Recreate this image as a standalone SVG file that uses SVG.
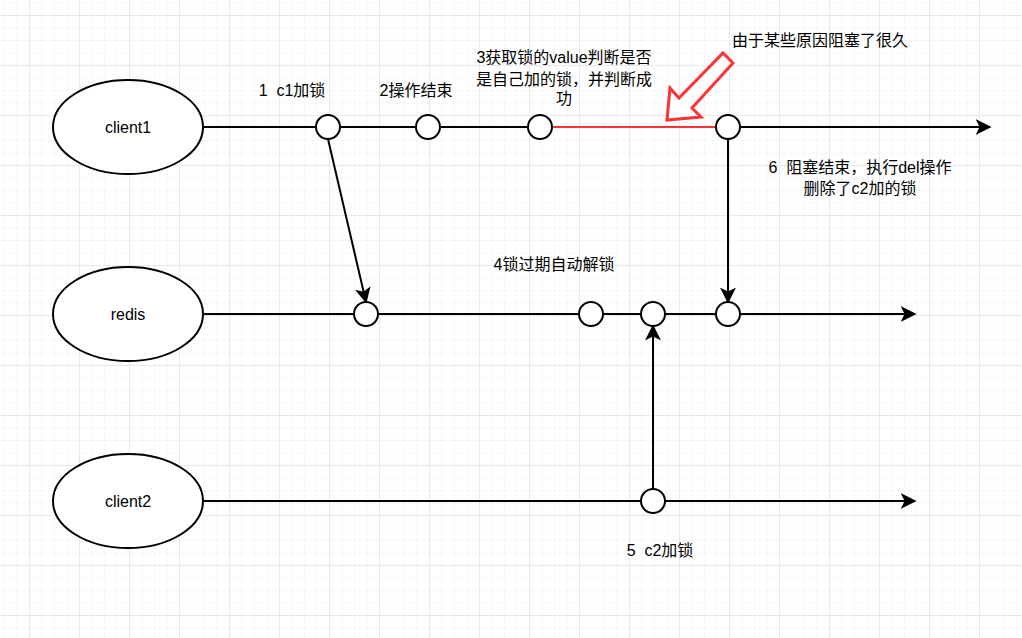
<svg xmlns="http://www.w3.org/2000/svg" width="1022" height="638" viewBox="0 0 1022 638">
<defs>
<pattern id="minor" x="4" y="2.5" width="12.5" height="12.5" patternUnits="userSpaceOnUse"><path d="M0 0H12.5M0 0V12.5" stroke="#efefef" stroke-width="1" fill="none"/></pattern>
<pattern id="major" x="29" y="15" width="50" height="50" patternUnits="userSpaceOnUse"><path d="M0 0H50M0 0V50" stroke="#dcdcdc" stroke-width="1" fill="none"/></pattern>
<marker id="ah2" viewBox="0 0 10 10" refX="9" refY="5" markerWidth="16" markerHeight="16" markerUnits="userSpaceOnUse" orient="auto"><path d="M0 0L10 5L0 10L2.5 5Z" fill="#000"/></marker>
</defs>
<style>
.n{fill:#fff;stroke:#000;stroke-width:2}
.l{stroke:#000;stroke-width:2;fill:none}
text{font-family:"Liberation Sans","Noto Sans CJK SC",sans-serif;font-size:16px;fill:#000;text-anchor:middle;white-space:pre}
</style>
<rect width="1022" height="638" fill="#fff"/>
<rect width="1022" height="638" fill="url(#minor)"/>
<rect width="1022" height="638" fill="url(#major)"/>
<g id="connectors">
<path class="l" d="M203 127H540" />
<path d="M552 127H716" stroke="#ff3333" stroke-width="2"/>
<path class="l" d="M740 127H990" marker-end="url(#ah2)"/>
<path class="l" d="M203 314H915" marker-end="url(#ah2)"/>
<path class="l" d="M203 501H915" marker-end="url(#ah2)"/>
<path class="l" d="M328 139L366 302" marker-end="url(#ah2)"/>
<path class="l" d="M728 139V302" marker-end="url(#ah2)"/>
<path class="l" d="M653 489V326" marker-end="url(#ah2)"/>
</g>
<g id="client1"><ellipse class="n" cx="128" cy="127" rx="75" ry="47"/><text x="128" y="133">client1</text></g>
<g id="redis"><ellipse class="n" cx="128" cy="314" rx="75" ry="47"/><text x="128" y="320">redis</text></g>
<g id="client2"><ellipse class="n" cx="128" cy="501" rx="75" ry="47"/><text x="128" y="507">client2</text></g>
<g id="points">
<circle class="n" cx="328" cy="127" r="12"/><circle class="n" cx="428" cy="127" r="12"/><circle class="n" cx="540" cy="127" r="12"/><circle class="n" cx="728" cy="127" r="12"/>
<circle class="n" cx="366" cy="314" r="12"/><circle class="n" cx="591" cy="314" r="12"/><circle class="n" cx="653" cy="314" r="12"/><circle class="n" cx="728" cy="314" r="12"/>
<circle class="n" cx="653" cy="501" r="12"/>
</g>
<g id="callout"><polygon points="667,120 670,88 679,98 723,53 733,63 692,108 701,117" fill="#fff" stroke="#ff3333" stroke-width="3" stroke-linejoin="miter"/></g>
<g id="labels">
<text x="292" y="96" xml:space="preserve">1  c1加锁</text>
<text x="416" y="96">2操作结束</text>
<text x="564" y="63">3获取锁的value判断是否</text>
<text x="564" y="85">是自己加的锁，并判断成</text>
<text x="564" y="104">功</text>
<text x="820" y="46">由于某些原因阻塞了很久</text>
<text x="860" y="173" xml:space="preserve">6  阻塞结束，执行del操作</text>
<text x="860" y="194">删除了c2加的锁</text>
<text x="554" y="270">4锁过期自动解锁</text>
<text x="660" y="556" xml:space="preserve">5  c2加锁</text>
</g>
</svg>
